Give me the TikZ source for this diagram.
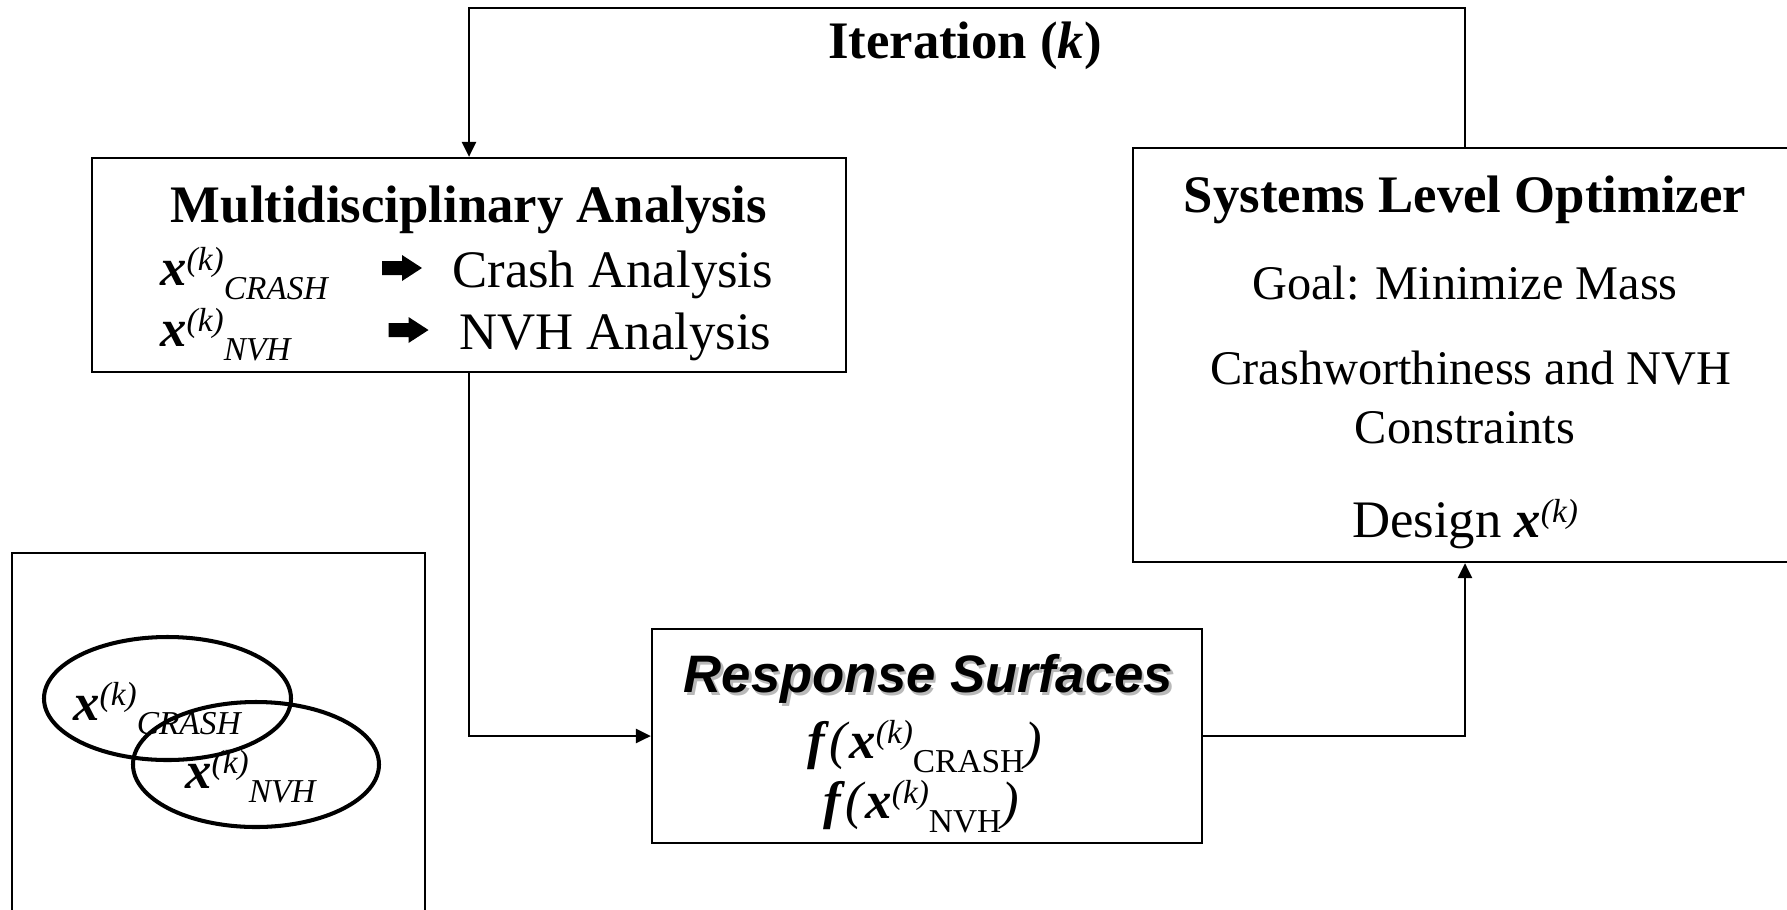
\documentclass[tikz,border=0pt]{standalone}
\usepackage{fontspec}
\setmainfont{Liberation Serif}
\newfontfamily\headsans{Liberation Sans}
\usetikzlibrary{arrows.meta}

\newcommand{\smallsz}{\fontsize{19}{19}\selectfont}
\newcommand{\xsup}{\textbf{\textit{x}}\raisebox{8pt}{\smallsz\itshape (k)}}
\newcommand{\lowsub}[1]{\raisebox{-8pt}{\smallsz #1}}

\tikzset{
  box/.style={draw, line width=1.3pt, inner sep=0pt},
  link/.style={line width=1.3pt, -{Triangle[length=8.5pt,width=8pt]}},
  ring/.style={line width=2.3pt},
  txt/.style={anchor=base, inner sep=0pt},
  ltxt/.style={anchor=base west, inner sep=0pt},
  goaltxt/.style={txt, font=\fontsize{27.5}{33}\selectfont},
  fatarrow/.pic={\fill (-0.4,-0.14) -- (0,-0.14) -- (0,-0.26) -- (0.4,0) -- (0,0.26) -- (0,0.14) -- (-0.4,0.14) -- cycle;}
}

\begin{document}
\begin{tikzpicture}[font=\fontsize{30}{36}\selectfont]
\useasboundingbox (0,0) rectangle (35.74,-18.18);
\clip (0,0) rectangle (35.74,-18.18);

% boxes
\node[box, minimum width=15.08cm, minimum height=4.28cm] (mda) at (9.38,-5.30) {};
\node[box, minimum width=13.28cm, minimum height=8.28cm] (slo) at (29.3,-7.10) {};
\node[box, minimum width=11cm, minimum height=4.28cm] (rs) at (18.54,-14.72) {};
\node[box, minimum width=8.26cm, minimum height=7.6cm] (venn) at (4.37,-14.86) {};

% multidisciplinary analysis
\node[txt] (mdatitle) at (9.38,-4.44) {\bfseries Multidisciplinary Analysis};
\node[ltxt] (xcrash) at (3.2,-5.70) {\xsup\lowsub{\itshape CRASH}};
\pic at (8.04,-5.36) {fatarrow};
\node[ltxt] (crash) at (9.04,-5.74) {Crash Analysis};
\node[ltxt] (xnvh) at (3.2,-6.92) {\xsup\lowsub{\itshape NVH}};
\pic at (8.17,-6.60) {fatarrow};
\node[ltxt] (nvh) at (9.18,-6.98) {NVH Analysis};

% optimizer
\node[txt] (slotitle) at (29.3,-4.24) {\bfseries Systems Level Optimizer};
\node[goaltxt] (goal) at (29.3,-5.98) {Goal: Minimize Mass};
\node[goaltxt] (cons1) at (29.42,-7.68) {Crashworthiness and NVH};
\node[goaltxt] (cons2) at (29.3,-8.86) {Constraints};
\node[txt] (design) at (29.3,-10.74) {Design \xsup};

% response surfaces
\node[txt, text=gray!55] (rsshadow) at (18.62,-13.90) {\headsans\bfseries\itshape Response Surfaces};
\node[txt] (rstitle) at (18.57,-13.84) {\headsans\bfseries\itshape Response Surfaces};
\node[ltxt] (fcrash) at (16.14,-15.16) {\textbf{\textit{f}}\textit{(}\xsup\lowsub{CRASH}\textit{)}};
\node[ltxt] (fnvh) at (16.46,-16.36) {\textbf{\textit{f}}\textit{(}\xsup\lowsub{NVH}\textit{)}};

% design spaces
\draw[ring] (3.35,-13.97) ellipse (2.47 and 1.23);
\draw[ring] (5.12,-15.29) ellipse (2.46 and 1.25);
\node[ltxt] (vcrash) at (1.46,-14.40) {\xsup\lowsub{\itshape CRASH}};
\node[ltxt] (vnvh) at (3.70,-15.76) {\xsup\lowsub{\itshape NVH}};

% connectors
\coordinate (loop) at (9.38,-0.16);
\node[txt] (iter) at (19.3,-1.16) {\bfseries Iteration (\textit{k})};
\draw[link] (slo.north) |- (loop) -- (mda.north);
\draw[link] (mda.south) |- (rs.west);
\draw[link] (rs.east) -| (slo.south);
\end{tikzpicture}
\end{document}
